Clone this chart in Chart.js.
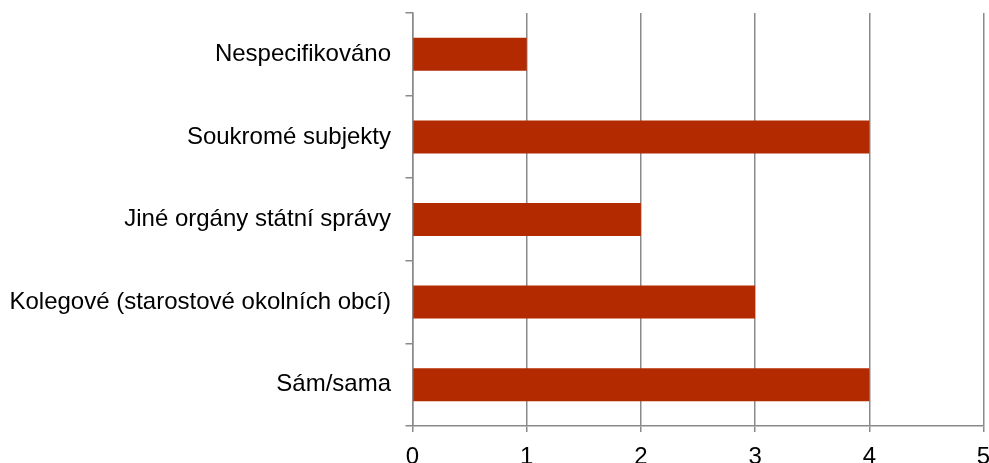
<!DOCTYPE html>
<html>
<head>
<meta charset="utf-8">
<script src="https://cdn.jsdelivr.net/npm/chart.js@4/dist/chart.umd.min.js"></script>
<style>
  html, body { margin: 0; padding: 0; background: #fff; overflow: hidden; }
  #wrap { width: 989px; height: 463px; }
</style>
</head>
<body>
<div id="wrap"><canvas id="c" width="989" height="463"></canvas></div>
<script>
// Categories, top to bottom
const categories = [
  'Nespecifikováno',
  'Soukromé subjekty',
  'Jiné orgány státní správy',
  'Kolegové (starostové okolních obcí)',
  'Sám/sama'
];
// Number of answers per category
const counts = [1, 4, 2, 3, 4];
// Value axis ticks
const xTicks = [0, 1, 2, 3, 4, 5];

const BAR_COLOR = '#B32A00';
const LINE_COLOR = '#8a8a8a';
const FONT = { family: "'Liberation Sans', Arial, sans-serif", size: 24 };

new Chart(document.getElementById('c'), {
  type: 'bar',
  data: {
    labels: categories,
    datasets: [{
      data: counts,
      backgroundColor: BAR_COLOR,
      borderWidth: 0,
      barPercentage: 0.4,
      categoryPercentage: 1.0
    }]
  },
  options: {
    indexAxis: 'y',
    responsive: false,
    animation: false,
    devicePixelRatio: 1,
    layout: { padding: { top: 13, right: 5.5, left: 0, bottom: 0 } },
    plugins: { legend: { display: false }, tooltip: { enabled: false } },
    scales: {
      x: {
        type: 'linear',
        min: xTicks[0],
        max: xTicks[xTicks.length - 1],
        afterBuildTicks: (s) => { s.ticks = xTicks.map(v => ({ value: v })); },
        ticks: { font: FONT, color: '#000', padding: 11 },
        grid: { color: LINE_COLOR, lineWidth: 1.5, tickLength: 6, drawTicks: true },
        border: { color: LINE_COLOR, width: 1.5 },
        afterFit: (s) => { s.height = 37; s.paddingLeft = 0; s.paddingRight = 0; }
      },
      y: {
        type: 'category',
        offset: true,
        ticks: { font: FONT, color: '#000', padding: 14.5 },
        grid: { offset: true, drawOnChartArea: false, drawTicks: true, tickLength: 7, color: LINE_COLOR, lineWidth: 1.5 },
        border: { color: LINE_COLOR, width: 1.5 },
        afterFit: (s) => { s.width = 412.5; s.paddingTop = 0; s.paddingBottom = 0; }
      }
    }
  }
});
</script>
</body>
</html>
